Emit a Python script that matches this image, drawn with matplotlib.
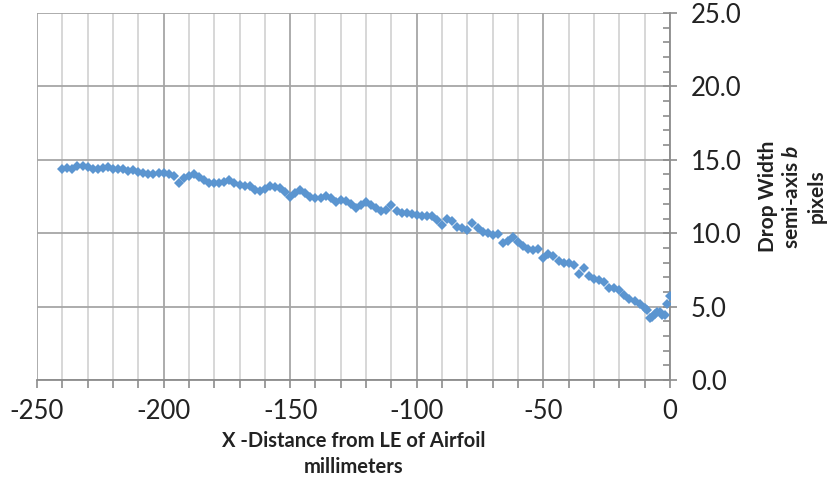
import matplotlib
matplotlib.use("Agg")
import matplotlib.pyplot as plt
from matplotlib.ticker import MultipleLocator, FormatStrFormatter

plt.rcParams['font.family'] = ['Lato', 'DejaVu Sans']
plt.rcParams['mathtext.fontset'] = 'custom'
plt.rcParams['mathtext.it'] = 'Lato:italic:bold'
plt.rcParams['axes.unicode_minus'] = False

# distance from leading edge (mm) and drop semi-axis b (pixels)
x_mm = [-240, -238, -236, -234, -232, -230, -228, -226, -224, -222,
        -220, -218, -216, -214, -212, -210, -208, -206, -204, -202,
        -200, -198, -196, -194, -192, -190, -188, -186, -184, -182,
        -180, -178, -176, -174, -172, -170, -168, -166, -164, -162,
        -160, -158, -156, -154, -152, -150, -148, -146, -144, -142,
        -140, -138, -136, -134, -132, -130, -128, -126, -124, -122,
        -120, -118, -116, -114, -112, -110, -108, -106, -104, -102,
        -100, -98, -96, -94, -92, -90, -88, -86, -84, -82,
        -80, -78, -76, -74, -72, -70, -68, -66, -64, -62,
        -60, -58, -56, -54, -52, -50, -48, -46, -44, -42,
        -40, -38, -36, -34, -32, -30, -28, -26, -24, -22,
        -20, -18, -16, -14, -12, -10, -9, -8, -7, -6,
        -5, -4, -3, -2, -1, 0]
semi_b = [14.4, 14.45, 14.35, 14.55, 14.6, 14.5, 14.4, 14.35, 14.45, 14.5,
          14.4, 14.35, 14.4, 14.25, 14.3, 14.15, 14.1, 14.05, 14.0, 14.1,
          14.1, 14.05, 13.9, 13.45, 13.75, 13.9, 14.0, 13.85, 13.6, 13.45,
          13.4, 13.45, 13.5, 13.6, 13.45, 13.3, 13.25, 13.2, 12.95, 12.85,
          13.0, 13.2, 13.15, 13.05, 12.8, 12.5, 12.75, 12.95, 12.75, 12.45,
          12.4, 12.4, 12.55, 12.4, 12.15, 12.25, 12.2, 12.0, 11.7, 11.9,
          12.1, 11.95, 11.7, 11.5, 11.6, 11.9, 11.5, 11.4, 11.35, 11.3,
          11.25, 11.2, 11.2, 11.15, 10.9, 10.55, 10.95, 10.8, 10.45, 10.35,
          10.2, 10.7, 10.35, 10.1, 10.0, 9.9, 9.95, 9.3, 9.5, 9.75,
          9.4, 9.15, 8.95, 8.85, 8.95, 8.3, 8.6, 8.45, 8.1, 8.0,
          7.95, 7.8, 7.25, 7.65, 7.1, 6.9, 6.8, 6.7, 6.25, 6.3,
          6.1, 5.8, 5.55, 5.4, 5.2, 4.9, 4.75, 4.2, 4.3, 4.5,
          4.65, 4.6, 4.4, 4.45, 5.2, 5.7]

fig = plt.figure(figsize=(8.31, 4.83), dpi=100)
ax = fig.add_axes([0.0445, 0.2133, 0.7617, 0.7597])

ax.plot(x_mm, semi_b, linestyle='none', marker='D', markersize=5,
        color='#5b95d0', markeredgewidth=0, zorder=3)

ax.set_xlim(-250, 0)
ax.set_ylim(0, 25)
ax.xaxis.set_major_locator(MultipleLocator(50))
ax.xaxis.set_minor_locator(MultipleLocator(10))
ax.yaxis.set_major_locator(MultipleLocator(5))
ax.yaxis.set_minor_locator(MultipleLocator(1))
ax.yaxis.set_major_formatter(FormatStrFormatter('%.1f'))

ax.yaxis.tick_right()
ax.yaxis.set_label_position('right')

ax.grid(which='major', color='#a6a6a6', linewidth=1.3)
ax.grid(which='minor', axis='x', color='#d4d4d4', linewidth=1.3)
ax.set_axisbelow(True)

for s in ['top', 'left']:
    ax.spines[s].set_visible(False)
for s in ['bottom', 'right']:
    ax.spines[s].set_color('#8c8c8c')
    ax.spines[s].set_linewidth(1.3)

ax.tick_params(axis='x', which='major', direction='out', length=6, width=1.2,
               color='#8c8c8c', labelsize=18.5, labelcolor='#222222', pad=8)
ax.tick_params(axis='x', which='minor', direction='out', length=6, width=1.2,
               color='#8c8c8c')
ax.tick_params(axis='y', which='major', direction='inout', length=10, width=1.2,
               color='#8c8c8c', labelsize=18.5, labelcolor='#222222', pad=10)
ax.tick_params(axis='y', which='minor', direction='in', length=5, width=1.2,
               color='#8c8c8c')

ax.set_xlabel('X -Distance from LE of Airfoil\nmillimeters', fontsize=14.5,
              fontweight='bold', color='#222222', labelpad=5, linespacing=1.35)
ax.set_ylabel('Drop Width\nsemi-axis $\\it{b}$\npixels', fontsize=15,
              fontweight='bold', color='#222222', labelpad=12, linespacing=1.25,
              rotation=90)

fig.savefig('out.png', dpi=100, facecolor='white')
